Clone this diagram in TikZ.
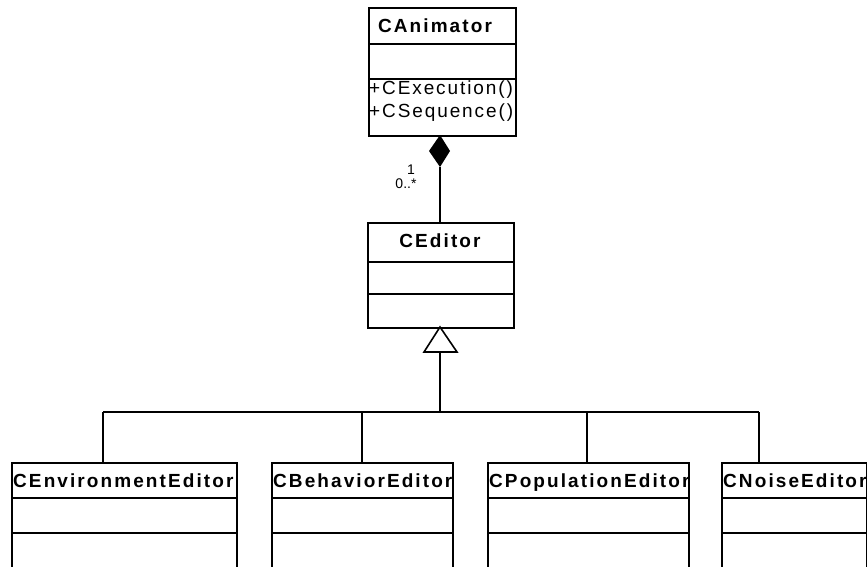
\documentclass[tikz,border=0pt]{standalone}
\usepackage{fontspec}
\setmainfont{Liberation Sans}
\usetikzlibrary{arrows.meta,calc}
\newfontfamily\titlefont[LetterSpace=11]{Liberation Sans Bold}
\newfontfamily\opfont[LetterSpace=10]{Liberation Sans}
\tikzset{
  classbox/.style={draw, line width=2pt, rectangle, anchor=north west, inner sep=0pt},
  classtitle/.style={font=\titlefont\fontsize{19}{20}\selectfont, inner sep=0pt},
  optext/.style={font=\opfont\fontsize{19}{21}\selectfont, inner sep=0pt, anchor=west},
  mult/.style={font=\fontsize{14}{15}\selectfont, inner sep=0pt},
  sepline/.style={line width=2pt},
  conn/.style={line width=2pt},
  thinconn/.style={line width=1.6pt}
}
% \umlclass{name}{x}{y}{w}{h}{sep1}{sep2}{title}{title node options}
\newcommand{\umlclass}[9]{%
  \node[classbox, minimum width=#4pt, minimum height=#5pt] (#1) at (#2,#3) {};
  \draw[sepline] ($(#1.north west)+(0,#6)$) -- ($(#1.north east)+(0,#6)$);
  \draw[sepline] ($(#1.north west)+(0,#7)$) -- ($(#1.north east)+(0,#7)$);
  \node[classtitle, #9] (#1-t) at ($(#1.north west)+(0,25)$) {#8};
}
\begin{document}
\begin{tikzpicture}[x=1pt,y=-1pt]
\useasboundingbox (0,0) rectangle (867,566);
% CAnimator
\umlclass{anim}{368}{7}{147}{128}{37}{72}{CAnimator}{anchor=base, xshift=67pt}
\node[optext] (op1) at (369,90) {+CExecution()};
\node[optext] (op2) at (369,113) {+CSequence()};
% CEditor
\umlclass{ed}{367}{222}{146}{105}{40}{72}{CEditor}{anchor=base, xshift=73pt}
% subclasses
\umlclass{env}{11}{462}{225}{110}{36}{71}{CEnvironmentEditor}{anchor=base west, xshift=2pt}
\umlclass{beh}{271}{462}{181}{110}{36}{71}{CBehaviorEditor}{anchor=base west, xshift=2pt}
\umlclass{pop}{487}{462}{201}{110}{36}{71}{CPopulationEditor}{anchor=base west, xshift=2pt}
\umlclass{noise}{721}{462}{145}{110}{36}{71}{CNoiseEditor}{anchor=base west, xshift=2pt}
% composition
\coordinate (dtop) at (440,135);
\coordinate (dbot) at (440,167);
\coordinate (etop) at (440,222);
\draw[conn] (dbot) -- (etop);
\fill (dtop) -- (450,151) -- (dbot) -- (429,151) -- cycle;
\node[mult] (m1) at (411,170) {1};
\node[mult] (m2) at (406,184) {0..*};
% generalization
\coordinate (tapex) at (440,327);
\coordinate (tbase) at (440,352);
\coordinate (bus) at (440,412);
\draw[line width=1.6pt, fill=white] (tapex) -- (457,352) -- (424,352) -- cycle;
\draw[line width=2.6pt] (tbase) -- (bus);
\draw[conn] (103,412) -- (759,412);
\draw[thinconn] (103,412) -- (103,462);
\draw[thinconn] (362,412) -- (362,462);
\draw[thinconn] (587,412) -- (587,462);
\draw[thinconn] (759,412) -- (759,462);
\end{tikzpicture}
\end{document}
